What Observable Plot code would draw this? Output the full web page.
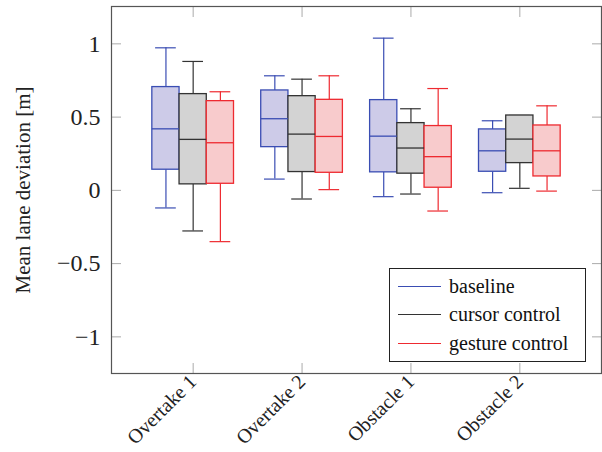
<!DOCTYPE html>
<html>
<head>
<meta charset="utf-8">
<script src="https://cdn.jsdelivr.net/npm/d3@7"></script>
<script src="https://cdn.jsdelivr.net/npm/@observablehq/plot@0.6"></script>
<style>
  html, body { margin: 0; padding: 0; background: #fff; }
  #wrap { position: relative; width: 602px; height: 452px; font-family: "Liberation Serif", "DejaVu Serif", serif; }
  #legend { position: absolute; left: 389px; top: 268px; width: 197px; height: 94px; border: 1px solid #222; background: #fff; box-sizing: border-box; }
  .row { position: absolute; left: 8px; height: 22px; display: flex; align-items: center; font-size: 20px; color: #111; white-space: nowrap; }
  .swatch { width: 43px; height: 0; border-top: 1px solid; margin-right: 8px; }
</style>
</head>
<body>
<div id="wrap"></div>
<script>
const categories = ["Overtake 1", "Overtake 2", "Obstacle 1", "Obstacle 2"];
const series = ["baseline", "cursor control", "gesture control"];
const yTicks = [-1, -0.5, 0, 0.5, 1];

// per series, one value per category
const lowerWhisker = {
  "baseline":        [-0.12, 0.077, -0.043, -0.016],
  "cursor control":  [-0.277, -0.059, -0.025, 0.014],
  "gesture control": [-0.35, 0.005, -0.141, -0.005]
};
const lowerQuartile = {
  "baseline":        [0.141, 0.295, 0.123, 0.127],
  "cursor control":  [0.041, 0.125, 0.114, 0.186],
  "gesture control": [0.045, 0.120, 0.018, 0.095]
};
const median = {
  "baseline":        [0.420, 0.489, 0.370, 0.270],
  "cursor control":  [0.348, 0.384, 0.289, 0.350],
  "gesture control": [0.325, 0.368, 0.230, 0.270]
};
const upperQuartile = {
  "baseline":        [0.705, 0.682, 0.616, 0.416],
  "cursor control":  [0.657, 0.643, 0.459, 0.511],
  "gesture control": [0.609, 0.618, 0.439, 0.443]
};
const upperWhisker = {
  "baseline":        [0.973, 0.782, 1.039, 0.475],
  "cursor control":  [0.880, 0.759, 0.557, 0.511],
  "gesture control": [0.673, 0.782, 0.695, 0.577]
};

const strokeColors = {"baseline": "#3a4db3", "cursor control": "#333333", "gesture control": "#ee2a30"};
const fillColors = {"baseline": "#cdcbe8", "cursor control": "#d3d3d3", "gesture control": "#f8cbcc"};

const boxWidth = 0.25, capHalf = 0.095;
const rows = [];
categories.forEach((c, i) => {
  series.forEach((s, j) => {
    const center = i + 1 + (j - 1) * boxWidth;
    rows.push({
      category: c, series: s, center,
      x1: center - boxWidth / 2, x2: center + boxWidth / 2,
      c1: center - capHalf, c2: center + capHalf,
      lw: lowerWhisker[s][i], q1: lowerQuartile[s][i], med: median[s][i],
      q3: upperQuartile[s][i], uw: upperWhisker[s][i]
    });
  });
});

const FONT = "Liberation Serif";
const fmt = d => (d < 0 ? "\u2212" + Math.abs(d) : String(d));
const stroke = d => strokeColors[d.series];

const chart = Plot.plot({
  width: 602,
  height: 452,
  marginLeft: 111,
  marginRight: 1,
  marginTop: 6,
  marginBottom: 79,
  style: {fontFamily: "'Liberation Serif', serif", background: "#fff"},
  x: {domain: [0.25, 4.75]},
  y: {domain: [-1.25, 1.255]},
  marks: [
    // inner ticks
    Plot.axisY({ticks: yTicks, anchor: "left", tickSize: -10, tickFormat: () => "", stroke: "#aaa", label: null}),
    Plot.axisY({ticks: yTicks, anchor: "right", tickSize: -10, tickFormat: () => "", stroke: "#aaa", label: null}),
    Plot.axisX({ticks: [1, 2, 3, 4], anchor: "bottom", tickSize: -10, tickFormat: () => "", stroke: "#aaa", label: null}),
    Plot.axisX({ticks: [1, 2, 3, 4], anchor: "top", tickSize: -10, tickFormat: () => "", stroke: "#aaa", label: null}),
    // tick labels
    Plot.axisY({ticks: yTicks, anchor: "left", tickSize: 0, tickPadding: 11, tickFormat: fmt, fontSize: 24, fontFamily: FONT, fill: "#222", label: null}),
    Plot.axisY({ticks: [], anchor: "left", label: "Mean lane deviation [m]", labelAnchor: "center", labelArrow: "none", labelOffset: 96, fontSize: 21, fontFamily: FONT, fill: "#222"}),
    Plot.axisX({ticks: [1, 2, 3, 4], anchor: "bottom", tickSize: 0, tickPadding: 5, tickRotate: -45, tickFormat: d => categories[d - 1], fontSize: 20, fontFamily: FONT, fill: "#222", label: null}),
    // whiskers
    Plot.ruleX(rows, {x: "center", y1: "lw", y2: "q1", stroke, strokeWidth: 1.2}),
    Plot.ruleX(rows, {x: "center", y1: "q3", y2: "uw", stroke, strokeWidth: 1.2}),
    Plot.ruleY(rows, {y: "lw", x1: "c1", x2: "c2", stroke, strokeWidth: 1.2}),
    Plot.ruleY(rows, {y: "uw", x1: "c1", x2: "c2", stroke, strokeWidth: 1.2}),
    // boxes
    Plot.rect(rows, {x1: "x1", x2: "x2", y1: "q1", y2: "q3", fill: d => fillColors[d.series], stroke, strokeWidth: 1.3}),
    Plot.ruleY(rows, {y: "med", x1: "x1", x2: "x2", stroke, strokeWidth: 1.3}),
    Plot.frame({stroke: "#555", strokeWidth: 1.2})
  ]
});

const wrap = document.getElementById("wrap");
wrap.appendChild(chart);

const legend = document.createElement("div");
legend.id = "legend";
series.forEach((s, j) => {
  const row = document.createElement("div");
  row.className = "row";
  row.style.top = (6 + j * 28.5) + "px";
  const sw = document.createElement("div");
  sw.className = "swatch";
  sw.style.borderTopColor = strokeColors[s];
  const t = document.createElement("span");
  t.textContent = s;
  row.appendChild(sw);
  row.appendChild(t);
  legend.appendChild(row);
});
wrap.appendChild(legend);
</script>
</body>
</html>
